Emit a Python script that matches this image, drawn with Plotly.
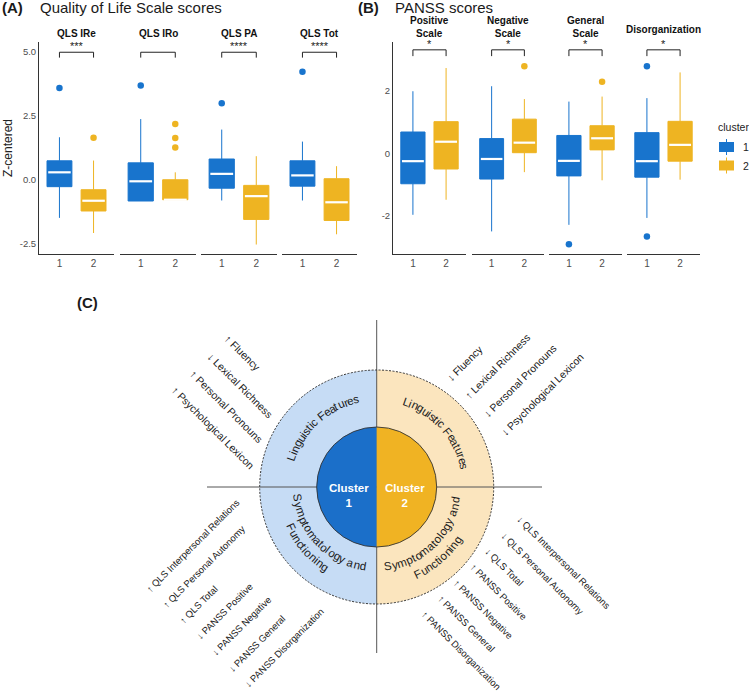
import math
import plotly.graph_objects as go

W, H = 749, 693
BLUE = "#1874CD"
GOLD = "#EEB422"
FONT = "Liberation Sans, Arial, sans-serif"

# ---------------- (A) Quality of Life Scale scores ----------------
QLS_FACETS = ["QLS IRe", "QLS IRo", "QLS PA", "QLS Tot"]
QLS_SIG = ["***", "", "****", "****"]
QLS_C1_Q1 = [-0.28, -0.84, -0.34, -0.26]
QLS_C1_MED = [0.28, -0.07, 0.22, 0.16]
QLS_C1_Q3 = [0.73, 0.65, 0.80, 0.73]
QLS_C1_LO = [-1.50, -0.84, -0.82, -0.82]
QLS_C1_HI = [1.65, 2.36, 1.95, 1.48]
QLS_C1_OUT = [[3.57], [3.67], [2.98], [4.21]]
QLS_C2_Q1 = [-1.23, -0.79, -1.56, -1.60]
QLS_C2_MED = [-0.83, -0.79, -0.65, -0.89]
QLS_C2_Q3 = [-0.40, -0.01, -0.23, 0.03]
QLS_C2_LO = [-2.09, -0.79, -2.54, -2.14]
QLS_C2_HI = [0.74, 0.28, 0.91, 0.52]
QLS_C2_OUT = [[1.63], [2.17, 1.62, 1.25], [], []]

# ---------------- (B) PANSS scores ----------------
PANSS_FACETS = ["Positive<br>Scale", "Negative<br>Scale", "General<br>Scale", "Disorganization"]
PANSS_SIG = ["*", "*", "*", "*"]
PANSS_C1_Q1 = [-0.97, -0.82, -0.72, -0.76]
PANSS_C1_MED = [-0.25, -0.18, -0.24, -0.25]
PANSS_C1_Q3 = [0.68, 0.47, 0.57, 0.66]
PANSS_C1_LO = [-1.96, -2.49, -2.28, -2.06]
PANSS_C1_HI = [1.98, 2.14, 1.65, 1.76]
PANSS_C1_OUT = [[], [], [-2.90], [2.78, -2.65]]
PANSS_C2_Q1 = [-0.50, 0.02, 0.11, -0.25]
PANSS_C2_MED = [0.37, 0.34, 0.48, 0.27]
PANSS_C2_Q3 = [1.01, 1.09, 0.88, 1.02]
PANSS_C2_LO = [-1.48, -0.60, -0.86, -0.84]
PANSS_C2_HI = [2.72, 1.73, 1.81, 2.58]
PANSS_C2_OUT = [[], [2.78], [2.28], []]

CLUSTERS = ["1", "2"]

# ---------------- (C) diagram texts ----------------
RING_TOP = "Linguistic Features"
RING_BOTTOM = ["Symptomatology and", "Functioning"]
LING_C1 = ["↑ Fluency", "↓ Lexical Richness", "↑ Personal Pronouns", "↑ Psychological Lexicon"]
LING_C2 = ["↓ Fluency", "↑ Lexical Richness", "↓ Personal Pronouns", "↓ Psychological Lexicon"]
SYMP_C1 = ["↑ QLS Interpersonal Relations", "↑ QLS Personal Autonomy", "↑ QLS Total",
           "↓ PANSS Positive", "↓ PANSS Negative", "↓ PANSS General", "↓ PANSS Disorganization"]
SYMP_C2 = ["↓ QLS Interpersonal Relations", "↓ QLS Personal Autonomy", "↓ QLS Total",
           "↑ PANSS Positive", "↑ PANSS Negative", "↑ PANSS General", "↑ PANSS Disorganization"]

# approx Arial advance widths (em) for laying out the rotated labels
CW = {' ': .278, 'a': .556, 'b': .556, 'c': .5, 'd': .556, 'e': .556, 'f': .278, 'g': .556,
      'h': .556, 'i': .222, 'l': .222, 'm': .833, 'n': .556, 'o': .556, 'p': .556, 'r': .333,
      's': .5, 't': .278, 'u': .556, 'x': .5, 'y': .5, 'z': .5, 'A': .667, 'C': .722, 'D': .722,
      'F': .611, 'G': .778, 'I': .278, 'L': .556, 'N': .722, 'P': .667, 'Q': .778, 'R': .722,
      'S': .667, 'T': .611, '↑': .5, '↓': .5}


def text_w(s, size):
    return sum(CW.get(ch, .556) for ch in s) * size


def P(x, y):
    return x / W, 1 - y / H


def note(px_, py_, text, size, color="#1a1a1a", xanchor="center", angle=0):
    x, y = P(px_, py_)
    annotations.append(dict(x=x, y=y, xref="paper", yref="paper", text=text, showarrow=False,
                            xanchor=xanchor, yanchor="middle", textangle=angle,
                            font=dict(size=size, color=color)))


fig = go.Figure()
annotations = []
shapes = []

# facet pixel boxes: (left, right) ; panel (top, bottom)
FACETS_A = [(39, 114), (120, 196), (201, 277), (282, 357)]
FACETS_B = [(393, 466), (472, 544), (549, 622), (627, 700)]
PANEL_Y = (42, 254)


def add_panel(first, facets, names, sig, c1, c2, yrange, tickvals, ticktext, brk):
    for k, (x0, x1) in enumerate(facets):
        n = first + k
        xa, ya = ("x", "y") if n == 1 else (f"x{n}", f"y{n}")
        for c, (q1, med, q3, lo, hi, out), col in ((1, c1, BLUE), (2, c2, GOLD)):
            fig.add_trace(go.Box(
                x=[c], q1=[q1[k]], median=[med[k]], q3=[q3[k]],
                lowerfence=[lo[k]], upperfence=[hi[k]],
                width=0.73, whiskerwidth=0, boxpoints=False,
                fillcolor=col, line=dict(color=col, width=1),
                name=CLUSTERS[c - 1], showlegend=False, xaxis=xa, yaxis=ya))
            fig.add_trace(go.Scatter(
                x=[c - 0.33, c + 0.33], y=[med[k], med[k]], mode="lines",
                line=dict(color="white", width=2.2), showlegend=False,
                hoverinfo="skip", xaxis=xa, yaxis=ya))
            if out[k]:
                fig.add_trace(go.Scatter(
                    x=[c] * len(out[k]), y=out[k], mode="markers",
                    marker=dict(color=col, size=6.5), showlegend=False,
                    xaxis=xa, yaxis=ya))
        # significance bracket
        fig.add_trace(go.Scatter(
            x=[1, 1, 2, 2], y=[brk[1], brk[0], brk[0], brk[1]], mode="lines",
            line=dict(color="#222", width=1), showlegend=False, hoverinfo="skip",
            xaxis=xa, yaxis=ya))
        if sig[k]:
            annotations.append(dict(x=1.5, y=brk[0], xref=xa, yref=ya, text=sig[k],
                                    showarrow=False, xanchor="center", yanchor="bottom",
                                    yshift=-2, font=dict(size=11, color="#222")))
        # facet strip title
        title_y = 27.5 if "<br>" in names[k] else (33 if first == 1 else 30)
        note((x0 + x1) / 2, title_y, f"<b>{names[k]}</b>", 10, "#111")
        xkey = "xaxis" if n == 1 else f"xaxis{n}"
        ykey = "yaxis" if n == 1 else f"yaxis{n}"
        fig.layout[xkey] = dict(
            domain=[x0 / W, x1 / W], anchor=ya, range=[0.4, 2.6], tickvals=[1, 2],
            ticktext=CLUSTERS, showline=True, linecolor="#333", linewidth=1,
            showgrid=False, zeroline=False, ticks="", fixedrange=True,
            tickfont=dict(size=10, color="#4d4d4d"))
        ydom = [1 - PANEL_Y[1] / H, 1 - PANEL_Y[0] / H]
        if k == 0:
            fig.layout[ykey] = dict(
                domain=ydom, anchor=xa, range=yrange, tickvals=tickvals, ticktext=ticktext,
                showline=True, linecolor="#333", linewidth=1, showgrid=False,
                zeroline=False, ticks="", tickfont=dict(size=9.5, color="#4d4d4d"))
        else:
            first_y = "y" if first == 1 else f"y{first}"
            fig.layout[ykey] = dict(domain=ydom, anchor=xa, matches=first_y,
                                    range=yrange, visible=False, showgrid=False)


add_panel(1, FACETS_A, QLS_FACETS, QLS_SIG,
          (QLS_C1_Q1, QLS_C1_MED, QLS_C1_Q3, QLS_C1_LO, QLS_C1_HI, QLS_C1_OUT),
          (QLS_C2_Q1, QLS_C2_MED, QLS_C2_Q3, QLS_C2_LO, QLS_C2_HI, QLS_C2_OUT),
          [-2.91, 5.37], [-2.5, 0, 2.5, 5], ["-2.5", "0.0", "2.5", "5.0"],
          (4.97, 4.76))
add_panel(5, FACETS_B, PANSS_FACETS, PANSS_SIG,
          (PANSS_C1_Q1, PANSS_C1_MED, PANSS_C1_Q3, PANSS_C1_LO, PANSS_C1_HI, PANSS_C1_OUT),
          (PANSS_C2_Q1, PANSS_C2_MED, PANSS_C2_Q3, PANSS_C2_LO, PANSS_C2_HI, PANSS_C2_OUT),
          [-3.21, 3.55], [-2, 0, 2], ["-2", "0", "2"],
          (3.30, 3.10))

fig.layout.yaxis.title = dict(text="Z-centered", font=dict(size=12, color="#222"), standoff=4)

# panel titles
note(0, 8, "<b>(A)</b>", 15, xanchor="left")
note(38, 8, "Quality of Life Scale scores", 15, xanchor="left")
note(356, 8, "<b>(B)</b>", 15, xanchor="left")
note(393, 8, "PANSS scores", 15, xanchor="left")
note(75, 302, "<b>(C)</b>", 15, xanchor="left")

# cluster legend (ggplot style keys)
note(716, 127, "cluster", 10.5, "#222", xanchor="left")
for i, col in enumerate((BLUE, GOLD)):
    top = 142 + 18.5 * i
    kx0, ky1 = P(719, top)
    kx1, ky0 = P(734, top + 10)
    shapes.append(dict(type="rect", xref="paper", yref="paper", x0=kx0, x1=kx1, y0=ky0, y1=ky1,
                       fillcolor=col, line=dict(width=0)))
    wx, wy1 = P(726.5, top - 3)
    _, wy0 = P(726.5, top + 13)
    shapes.append(dict(type="line", xref="paper", yref="paper", x0=wx, x1=wx, y0=wy0, y1=wy1,
                       line=dict(color=col, width=1)))
    note(741, top + 5, CLUSTERS[i], 10.5, "#222", xanchor="left")

# ---------------- (C) concentric diagram ----------------
CX, CY = 376.7, 487.0
R_IN, R_OUT = 60.0, 117.0


def sector_path(r, a0, a1, n=80):
    pts = [P(CX, CY)]
    for i in range(n + 1):
        a = math.radians(a0 + (a1 - a0) * i / n)
        pts.append(P(CX + r * math.cos(a), CY - r * math.sin(a)))
    return "M " + " L ".join(f"{x:.5f},{y:.5f}" for x, y in pts) + " Z"


def circle_shape(r, **kw):
    x0, y1 = P(CX - r, CY - r)
    x1, y0 = P(CX + r, CY + r)
    return dict(type="circle", xref="paper", yref="paper", x0=x0, x1=x1, y0=y0, y1=y1, **kw)


shapes.append(dict(type="path", xref="paper", yref="paper", path=sector_path(R_OUT, 90, 270),
                   fillcolor="#C6DCF5", line=dict(width=0)))
shapes.append(dict(type="path", xref="paper", yref="paper", path=sector_path(R_OUT, -90, 90),
                   fillcolor="#FBE5BE", line=dict(width=0)))
hx0, hy = P(207, CY)
hx1, _ = P(542, CY)
vx, vy0 = P(CX, 653)
_, vy1 = P(CX, 320)
shapes.append(dict(type="line", xref="paper", yref="paper", x0=hx0, x1=hx1, y0=hy, y1=hy,
                   line=dict(color="#555", width=1)))
shapes.append(dict(type="line", xref="paper", yref="paper", x0=vx, x1=vx, y0=vy0, y1=vy1,
                   line=dict(color="#555", width=1)))
shapes.append(circle_shape(R_OUT, line=dict(color="#333", width=1, dash="2px,1.5px")))
shapes.append(dict(type="path", xref="paper", yref="paper", path=sector_path(R_IN, 90, 270),
                   fillcolor="#1B6FC9", line=dict(width=0)))
shapes.append(dict(type="path", xref="paper", yref="paper", path=sector_path(R_IN, -90, 90),
                   fillcolor="#F0B323", line=dict(width=0)))
shapes.append(circle_shape(R_IN, line=dict(color="#333", width=0.9)))

note(349, 495, "<b>Cluster<br>1</b>", 11.5, "white")
note(405, 495, "<b>Cluster<br>2</b>", 11.5, "white")


def curved_text(text, theta_c, r, size, outward):
    L = text_w(text, size)
    s = 0.0
    for ch in text:
        w = CW.get(ch, .556) * size
        mid = s + w / 2 - L / 2
        s += w
        if ch == " ":
            continue
        if outward:
            th = math.radians(theta_c) - mid / r
            ang = 90 - math.degrees(th)
        else:
            th = math.radians(theta_c) + mid / r
            ang = 270 - math.degrees(th)
        note(CX + r * math.cos(th), CY - r * math.sin(th), ch, size, angle=ang)


curved_text(RING_TOP, 132, 90, 11.5, True)
curved_text(RING_TOP, 42, 90, 11.5, True)
curved_text(RING_BOTTOM[0], 224, 80, 11.5, False)
curved_text(RING_BOTTOM[1], 221, 95, 11.5, False)
curved_text(RING_BOTTOM[0], 314, 80, 11.5, False)
curved_text(RING_BOTTOM[1], 311, 96, 11.5, False)


def list_block(lines, start, step, angle, size):
    dx, dy = math.cos(math.radians(angle)), math.sin(math.radians(angle))
    for i, line in enumerate(lines):
        sx, sy = start[0] + i * step[0], start[1] + i * step[1]
        half = text_w(line, size) / 2
        note(sx + half * dx, sy + half * dy, line, size, angle=angle)


list_block(LING_C1, (227, 337), (-17.7, 17.3), 45, 10.5)
list_block(LING_C2, (449, 379), (18.0, 18.0), -45, 10.5)
list_block(SYMP_C1, (148, 590), (16.4, 16.0), -45, 9.5)
list_block(SYMP_C2, (519, 518), (-15.9, 15.7), 45, 9.5)

fig.update_layout(
    width=W, height=H, margin=dict(l=0, r=0, t=0, b=0),
    paper_bgcolor="white", plot_bgcolor="white",
    font=dict(family=FONT, color="#222"),
    annotations=annotations, shapes=shapes,
    boxmode="overlay", showlegend=False,
)

fig.write_html("out.html", config={"displayModeBar": False},
               post_script="document.body.style.margin='0';")
